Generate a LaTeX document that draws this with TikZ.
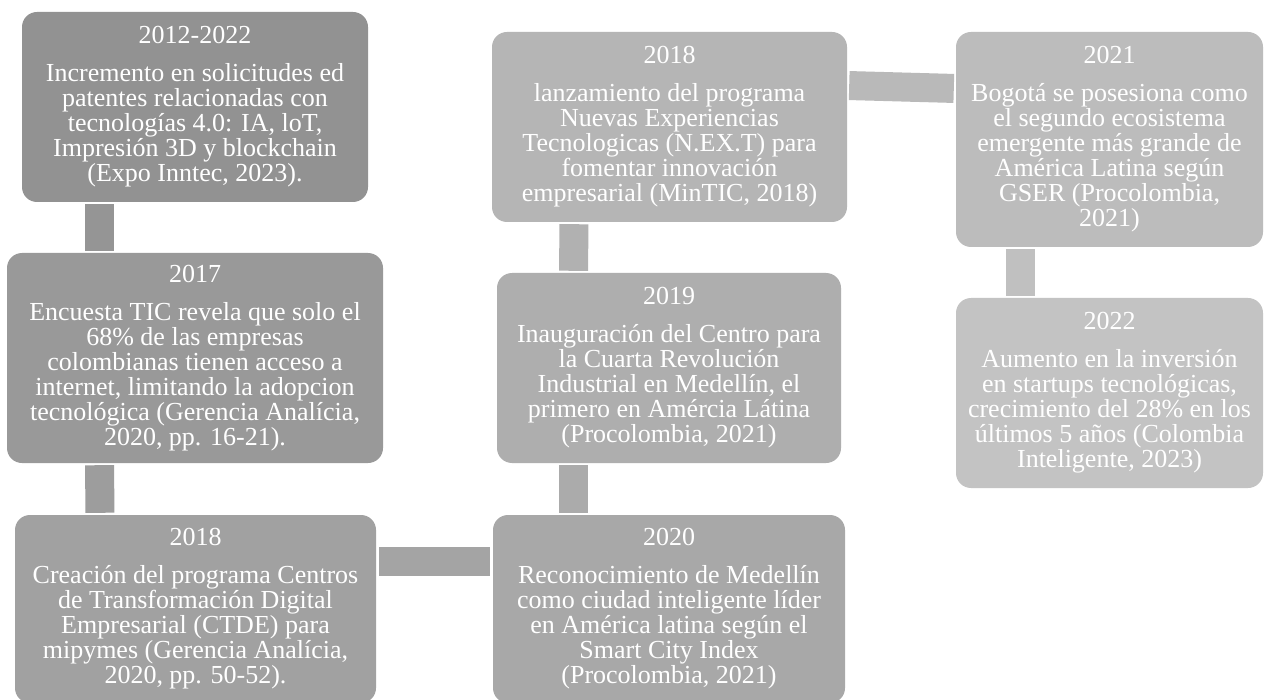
\documentclass[tikz,border=0pt]{standalone}
\usepackage{fontspec}
\setmainfont{Liberation Serif}

% Tonos de gris de cajas y uniones
\definecolor{caja1}{RGB}{146,146,146}
\definecolor{caja2}{RGB}{153,153,153}
\definecolor{caja3}{RGB}{161,161,161}
\definecolor{caja4}{RGB}{168,168,168}
\definecolor{caja5}{RGB}{174,174,174}
\definecolor{caja6}{RGB}{181,181,181}
\definecolor{caja7}{RGB}{188,188,188}
\definecolor{caja8}{RGB}{195,195,195}

\tikzset{
  caja/.style={rounded corners=15pt, inner sep=0pt, align=center, text=white,
    font=\fontsize{26}{25}\selectfont},
  union/.style={line width=29pt, shorten <=2pt, shorten >=2pt}
}

\begin{document}
\begin{tikzpicture}[x=1pt, y=-1pt]
    \clip (0,0) rectangle (1265,700);
    \fill[white] (0,0) rectangle (1265,700);

    % Columna izquierda
    \node[caja, fill=caja1, minimum width=346pt, minimum height=190pt] (c1) at (195,107)
      {2012-2022\\[13pt]Incremento en solicitudes ed\\patentes relacionadas con\\tecnologías 4.0: IA, loT,\\Impresión 3D y blockchain\\(Expo Inntec, 2023).};
    \node[caja, fill=caja2, minimum width=376pt, minimum height=210pt] (c2) at (195,358)
      {2017\\[13pt]Encuesta TIC revela que solo el\\68\% de las empresas\\colombianas tienen acceso a\\internet, limitando la adopcion\\tecnológica (Gerencia Analícia,\\2020, pp. 16-21).};
    \node[caja, fill=caja3, minimum width=361pt, minimum height=188pt] (c3) at (195.5,609)
      {2018\\[13pt]Creación del programa Centros\\de Transformación Digital\\Empresarial (CTDE) para\\mipymes (Gerencia Analícia,\\2020, pp. 50-52).};

    % Columna central
    \node[caja, fill=caja4, minimum width=352pt, minimum height=188pt] (c4) at (669,609)
      {2020\\[13pt]Reconocimiento de Medellín\\como ciudad inteligente líder\\en América latina según el\\Smart City Index\\(Procolombia, 2021)};
    \node[caja, fill=caja5, minimum width=344pt, minimum height=190pt] (c5) at (669,368)
      {2019\\[13pt]Inauguración del Centro para\\la Cuarta Revolución\\Industrial en Medellín, el\\primero en Amércia Látina\\(Procolombia, 2021)};
    \node[caja, fill=caja6, minimum width=355pt, minimum height=190pt] (c6) at (669.5,127)
      {2018\\[13pt]lanzamiento del programa\\Nuevas Experiencias\\Tecnologicas (N.EX.T) para\\fomentar innovación\\empresarial (MinTIC, 2018)};

    % Columna derecha
    \node[caja, fill=caja7, minimum width=307pt, minimum height=215pt] (c7) at (1109.5,139.5)
      {2021\\[13pt]Bogotá se posesiona como\\el segundo ecosistema\\emergente más grande de\\América Latina según\\GSER (Procolombia,\\2021)};
    \node[caja, fill=caja8, minimum width=307pt, minimum height=190pt] (c8) at (1109.5,393)
      {2022\\[13pt]Aumento en la inversión\\en startups tecnológicas,\\crecimiento del 28\% en los\\últimos 5 años (Colombia\\Inteligente, 2023)};

    % Uniones verticales: arriba/abajo/desplazamiento/color
    \foreach \a/\b/\dx/\col in {c1/c2/-95.5/caja1!50!caja2, c2/c3/-95.5/caja2!50!caja3,
        c5/c4/-95.5/caja4!50!caja5, c6/c5/-95.5/caja5!50!caja6, c7/c8/-89.5/caja7!50!caja8} {
        \draw[union, \col] ([xshift=\dx pt]\a.south) -- ([xshift=\dx pt]\b.north);
    }
    % Uniones horizontales
    \draw[union, shorten >=3pt, shorten <=3pt, caja3!50!caja4]
      ([yshift=48pt]c3.east) -- ([yshift=48pt]c4.west);
    \draw[union, caja6!50!caja7] ([yshift=41.5pt]c6.east) -- ([yshift=51pt]c7.west);
\end{tikzpicture}
\end{document}
